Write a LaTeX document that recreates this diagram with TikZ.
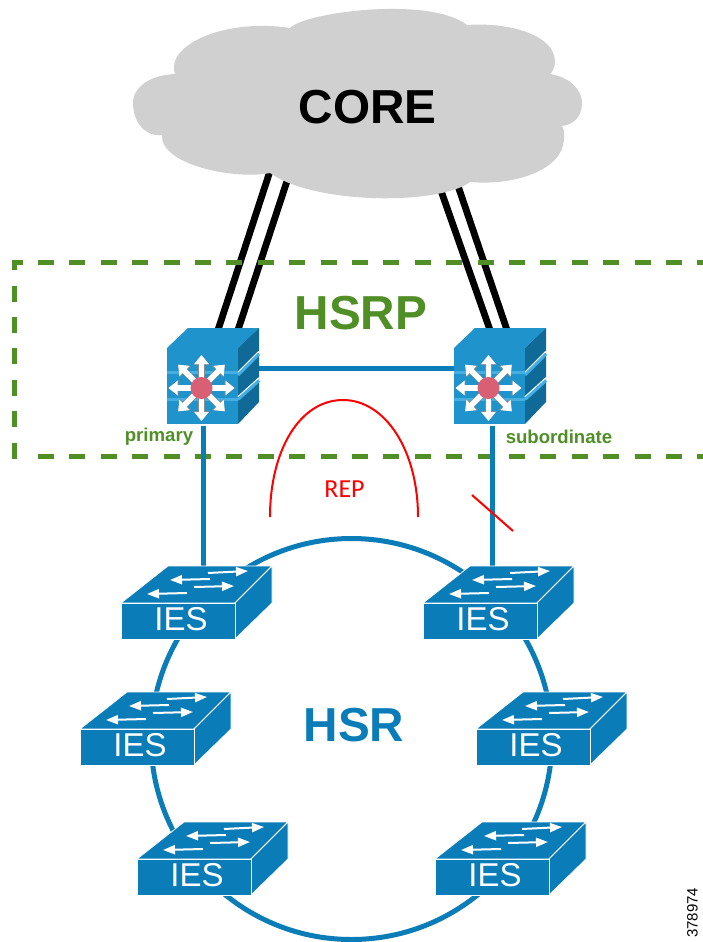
\documentclass[tikz,border=0pt]{standalone}
\usepackage{fontspec}
\setmainfont{Liberation Sans}
\newfontfamily\repfont{Carlito}
\usetikzlibrary{arrows.meta}
\definecolor{hsrblue}{HTML}{0A7DB9}
\definecolor{hsrpgreen}{HTML}{4F8F26}
\definecolor{coregray}{HTML}{D0D0D0}
\definecolor{mstop}{HTML}{1F93CC}
\definecolor{msside}{HTML}{0F6A97}
\definecolor{msband}{HTML}{45AEE3}
\definecolor{mspink}{HTML}{D95F74}
\tikzset{
	uplink/.style={line width=6.8pt,black},
	bluelink/.style={line width=5pt,hsrblue},
	hsrpdash/.style={hsrpgreen,line width=5.3pt,dash pattern=on 16pt off 15.4pt},
	iesface/.style={fill=hsrblue,draw=white,line width=0.8pt,line join=round},
	iesarrow/.style={white,line width=2pt,-{Triangle[width=9pt,length=12pt]}},
	msarrow/.style={white,line width=5.5pt,-{Triangle[width=14pt,length=9pt]}},
	msshadow/.style={black!45,line width=6.5pt,-{Triangle[width=15.5pt,length=10pt]}},
	ieslabel/.style={white,font=\fontsize{33}{33}\selectfont,inner sep=0pt},
	biglabel/.style={font=\fontsize{47.7}{47.7}\selectfont\bfseries,inner sep=0pt},
	smalllabel/.style={hsrpgreen,font=\fontsize{18.6}{18.6}\selectfont\bfseries,inner sep=0pt},
	redline/.style={red,line width=2pt}
}
\begin{document}
\begin{tikzpicture}[x=1pt,y=-1pt]
	\useasboundingbox (0,0) rectangle (702,942);
	
	% anchors of the connectors
	\coordinate (corel1) at (272,165);
	\coordinate (corel2) at (289,175);
	\coordinate (corer1) at (439,185);
	\coordinate (corer2) at (456,180);
	\coordinate (ms1t1) at (218,330);
	\coordinate (ms1t2) at (238,330);
	\coordinate (ms2t1) at (490,330);
	\coordinate (ms2t2) at (507,330);
	\coordinate (ms1e) at (250,368);
	\coordinate (ms2w) at (460,368);
	\coordinate (ms1b) at (203,426);
	\coordinate (ms2b) at (492.5,426);
	\coordinate (ies1t) at (203,580);
	\coordinate (ies2t) at (492.5,580);
	\coordinate (cut1) at (472,495);
	\coordinate (cut2) at (513,531);
	\coordinate (rep1) at (270,517);
	\coordinate (reptop) at (343,400);
	\coordinate (rep2) at (418,517);
	
	\draw [uplink] (corel1) -- (ms1t1);
	\draw [uplink] (corel2) -- (ms1t2);
	\draw [uplink] (corer1) -- (ms2t1);
	\draw [uplink] (corer2) -- (ms2t2);
	
	% cloud
	\fill [coregray] (290,28) .. controls (305,12) and (430,-4) .. (467,25)
		.. controls (510,22) and (555,35) .. (555,62)
		.. controls (555,67) and (553,71) .. (550,74)
		.. controls (570,77) and (582,90) .. (582,103)
		.. controls (582,117) and (573,125) .. (562,126)
		.. controls (565,131) and (564,135) .. (564,140)
		.. controls (562,170) and (515,186) .. (470,182)
		.. controls (440,205) and (315,205) .. (270,173)
		.. controls (235,180) and (160,165) .. (162,135)
		.. controls (145,137) and (133,122) .. (133,103)
		.. controls (133,87) and (150,75) .. (175,74)
		.. controls (165,45) and (225,18) .. (290,28) -- cycle;
	\node (core) [biglabel] at (367.5,107) {CORE};
	
	% hsrp box, open on the right
	\draw [hsrpdash] (23,262.7) -- (14.5,262.7) -- (14.5,456.6) -- (23,456.6);
	\draw [hsrpdash] (38,262.7) -- (720,262.7);
	\draw [hsrpdash] (38,456.6) -- (720,456.6);
	\node (hsrp) [biglabel,hsrpgreen] at (361,313) {HSRP};
	\node (primary) [smalllabel] at (159,437) {primary};
	\node (subordinate) [smalllabel] at (559,437) {subordinate};
	
	% ring and links
	\node (ring) [circle,draw=hsrblue,line width=5pt,minimum size=401pt,inner sep=0pt] at (351.5,739) {};
	\node (hsr) [biglabel,hsrblue] at (354,725) {HSR};
	\draw [bluelink] (ms1e) -- (ms2w);
	\draw [bluelink] (ms1b) -- (ies1t);
	\draw [bluelink] (ms2b) -- (ies2t);
	
	% ies switches
	\foreach \x/\y [count=\n] in {121/603,423/603,80/729,476/729,137/859,435/859}{
		\begin{scope}[shift={(\x,\y)}]
			\draw [iesface] (0,0) -- (47,-37) -- (151,-37) -- (114,0) -- cycle;
			\draw [iesface] (114,0) -- (151,-37) -- (151,0) -- (114,36) -- cycle;
			\draw [iesface] (0,0) rectangle (114,36);
			\draw [iesarrow] (87,-30) -- (127,-32);
			\draw [iesarrow] (89,-24) -- (49,-23);
			\draw [iesarrow] (73,-16) -- (113,-17);
			\draw [iesarrow] (66,-10) -- (26,-9);
			\node (ies\n) [ieslabel] at (60,16) {IES};
		\end{scope}
	}
	
	% multilayer switches
	\foreach \x [count=\n] in {167,454}{
		\begin{scope}[shift={(\x,348)}]
			\fill [mstop] (0,0) -- (21,-20) -- (92,-20) -- (71,0) -- cycle;
			\fill [msside] (71,0) -- (92,-20) -- (92,54) -- (71,76) -- cycle;
			\fill [mstop] (0,0) rectangle (71,76);
			\draw [white,line width=1.6pt] (71,24.5) -- (92,3.5);
			\draw [msband,line width=3pt] (71,27) -- (92,6);
			\draw [white,line width=1.6pt] (71,49) -- (92,30);
			\draw [msband,line width=3pt] (71,51.5) -- (92,32.5);
			\draw [msband,line width=2.2pt] (0,24.5) -- (71,24.5);
			\draw [msband,line width=2.2pt] (0,51.5) -- (71,51.5);
			\foreach \a in {0,45,...,315}{
				\draw [msshadow] (34.5,40) -- ++(\a:33);
				\draw [msarrow] (34.5,40) -- ++(\a:33);
			}
			\node (ms\n) [circle,fill=mspink,minimum size=22pt,inner sep=0pt] at (34.5,40) {};
		\end{scope}
	}
	
	% rep
	\draw [redline] (rep1) .. controls (270,450) and (300,400) .. (reptop) .. controls (385,400) and (418,450) .. (rep2);
	\node (rep) [red,font=\repfont\fontsize{26}{26}\selectfont,inner sep=0pt] at (344.5,489) {REP};
	\draw [redline] (cut1) -- (cut2);
	
	\node (figno) [rotate=90,anchor=south west,font=\fontsize{15}{15}\selectfont,inner sep=0pt] at (698,938) {378974};
\end{tikzpicture}
\end{document}
